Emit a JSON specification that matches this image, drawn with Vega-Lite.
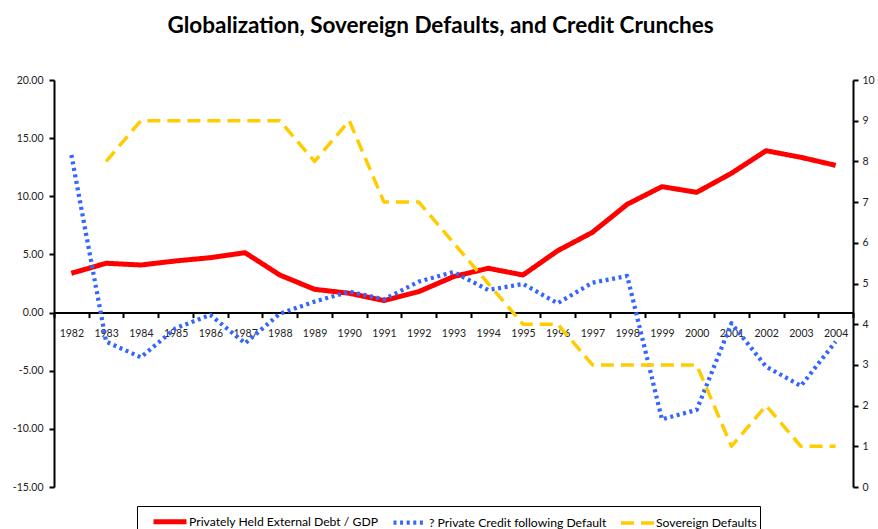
{
  "$schema": "https://vega.github.io/schema/vega-lite/v6.json",
  "autosize": {"type": "none"},
  "width": 799,
  "height": 407,
  "padding": {"left": 54, "top": 80, "right": 25, "bottom": 42},
  "background": "white",
  "config": {"view": {"stroke": null}, "font": "Lato"},
  "title": {"text": "Globalization, Sovereign Defaults, and Credit Crunches", "font": "Lato", "fontSize": 22.5, "fontWeight": "bold", "color": "#000000", "offset": 38, "dx": -13},
  "data": {"values": [
    {"year": 1982, "series": "Privately Held External Debt / GDP", "value": 3.38},
    {"year": 1983, "series": "Privately Held External Debt / GDP", "value": 4.24},
    {"year": 1984, "series": "Privately Held External Debt / GDP", "value": 4.09},
    {"year": 1985, "series": "Privately Held External Debt / GDP", "value": 4.44},
    {"year": 1986, "series": "Privately Held External Debt / GDP", "value": 4.72},
    {"year": 1987, "series": "Privately Held External Debt / GDP", "value": 5.15},
    {"year": 1988, "series": "Privately Held External Debt / GDP", "value": 3.23},
    {"year": 1989, "series": "Privately Held External Debt / GDP", "value": 2.0},
    {"year": 1990, "series": "Privately Held External Debt / GDP", "value": 1.66},
    {"year": 1991, "series": "Privately Held External Debt / GDP", "value": 1.03},
    {"year": 1992, "series": "Privately Held External Debt / GDP", "value": 1.8},
    {"year": 1993, "series": "Privately Held External Debt / GDP", "value": 3.09},
    {"year": 1994, "series": "Privately Held External Debt / GDP", "value": 3.81},
    {"year": 1995, "series": "Privately Held External Debt / GDP", "value": 3.23},
    {"year": 1996, "series": "Privately Held External Debt / GDP", "value": 5.32},
    {"year": 1997, "series": "Privately Held External Debt / GDP", "value": 6.9},
    {"year": 1998, "series": "Privately Held External Debt / GDP", "value": 9.31},
    {"year": 1999, "series": "Privately Held External Debt / GDP", "value": 10.83},
    {"year": 2000, "series": "Privately Held External Debt / GDP", "value": 10.34},
    {"year": 2001, "series": "Privately Held External Debt / GDP", "value": 11.98},
    {"year": 2002, "series": "Privately Held External Debt / GDP", "value": 13.92},
    {"year": 2003, "series": "Privately Held External Debt / GDP", "value": 13.35},
    {"year": 2004, "series": "Privately Held External Debt / GDP", "value": 12.66},
    {"year": 1982, "series": "? Private Credit following Default", "value": 13.55},
    {"year": 1983, "series": "? Private Credit following Default", "value": -2.5},
    {"year": 1984, "series": "? Private Credit following Default", "value": -3.85},
    {"year": 1985, "series": "? Private Credit following Default", "value": -1.35},
    {"year": 1986, "series": "? Private Credit following Default", "value": -0.2},
    {"year": 1987, "series": "? Private Credit following Default", "value": -2.64},
    {"year": 1988, "series": "? Private Credit following Default", "value": -0.1},
    {"year": 1989, "series": "? Private Credit following Default", "value": 0.94},
    {"year": 1990, "series": "? Private Credit following Default", "value": 1.8},
    {"year": 1991, "series": "? Private Credit following Default", "value": 1.14},
    {"year": 1992, "series": "? Private Credit following Default", "value": 2.66},
    {"year": 1993, "series": "? Private Credit following Default", "value": 3.49},
    {"year": 1994, "series": "? Private Credit following Default", "value": 1.94},
    {"year": 1995, "series": "? Private Credit following Default", "value": 2.46},
    {"year": 1996, "series": "? Private Credit following Default", "value": 0.8},
    {"year": 1997, "series": "? Private Credit following Default", "value": 2.57},
    {"year": 1998, "series": "? Private Credit following Default", "value": 3.15},
    {"year": 1999, "series": "? Private Credit following Default", "value": -9.18},
    {"year": 2000, "series": "? Private Credit following Default", "value": -8.37},
    {"year": 2001, "series": "? Private Credit following Default", "value": -0.92},
    {"year": 2002, "series": "? Private Credit following Default", "value": -4.65},
    {"year": 2003, "series": "? Private Credit following Default", "value": -6.31},
    {"year": 2004, "series": "? Private Credit following Default", "value": -2.5},
    {"year": 1983, "series": "Sovereign Defaults", "value": 8},
    {"year": 1984, "series": "Sovereign Defaults", "value": 9},
    {"year": 1985, "series": "Sovereign Defaults", "value": 9},
    {"year": 1986, "series": "Sovereign Defaults", "value": 9},
    {"year": 1987, "series": "Sovereign Defaults", "value": 9},
    {"year": 1988, "series": "Sovereign Defaults", "value": 9},
    {"year": 1989, "series": "Sovereign Defaults", "value": 8},
    {"year": 1990, "series": "Sovereign Defaults", "value": 9},
    {"year": 1991, "series": "Sovereign Defaults", "value": 7},
    {"year": 1992, "series": "Sovereign Defaults", "value": 7},
    {"year": 1993, "series": "Sovereign Defaults", "value": 6},
    {"year": 1994, "series": "Sovereign Defaults", "value": 5},
    {"year": 1995, "series": "Sovereign Defaults", "value": 4},
    {"year": 1996, "series": "Sovereign Defaults", "value": 4},
    {"year": 1997, "series": "Sovereign Defaults", "value": 3},
    {"year": 1998, "series": "Sovereign Defaults", "value": 3},
    {"year": 1999, "series": "Sovereign Defaults", "value": 3},
    {"year": 2000, "series": "Sovereign Defaults", "value": 3},
    {"year": 2001, "series": "Sovereign Defaults", "value": 1},
    {"year": 2002, "series": "Sovereign Defaults", "value": 2},
    {"year": 2003, "series": "Sovereign Defaults", "value": 1},
    {"year": 2004, "series": "Sovereign Defaults", "value": 1}
  ]},
  "encoding": {
    "x": {
      "field": "year", "type": "ordinal",
      "scale": {"paddingInner": 0, "paddingOuter": 0},
      "axis": {
        "title": null, "labelAngle": 0, "offset": -174.4, "tickBand": "extent",
        "domainColor": "#000000", "domainWidth": 2, "tickColor": "#000000", "tickWidth": 2, "tickSize": 5,
        "labelFont": "Lato", "labelFontSize": 10.5, "labelColor": "#222222", "labelPadding": 11,
        "encode": {"ticks": {"update": {"y": {"value": -5}, "y2": {"value": 5}}}}
      }
    },
    "color": {
      "field": "series", "type": "nominal",
      "scale": {"domain": ["Privately Held External Debt / GDP", "? Private Credit following Default", "Sovereign Defaults"], "range": ["#ff0000", "#3366ff", "#ffcc00"]},
      "legend": {
        "title": null, "orient": "none", "direction": "horizontal", "legendX": 83, "legendY": 426,
        "symbolType": "M0.1,0H3.4", "symbolSize": 400, "labelFont": "Lato", "labelFontSize": 12.2, "labelColor": "#000000",
        "labelLimit": 400, "columnPadding": 1, "labelOffset": 24, "strokeColor": "#000000", "fillColor": "#ffffff", "padding": 3
      }
    },
    "strokeDash": {
      "field": "series", "type": "nominal",
      "scale": {"domain": ["Privately Held External Debt / GDP", "? Private Credit following Default", "Sovereign Defaults"], "range": [[1, 0], [3, 3.6], [13, 7]]},
      "legend": {"title": null}
    },
    "strokeWidth": {
      "field": "series", "type": "nominal",
      "scale": {"domain": ["Privately Held External Debt / GDP", "? Private Credit following Default", "Sovereign Defaults"], "range": [5, 3.5, 5]},
      "legend": {"title": null}
    }
  },
  "layer": [
    {
      "transform": [{"filter": "datum.series !== 'Sovereign Defaults'"}],
      "mark": {"type": "line", "strokeJoin": "round"},
      "encoding": {
        "y": {
          "field": "value", "type": "quantitative",
          "scale": {"domain": [-15, 20], "nice": false, "zero": false},
          "axis": {
            "title": null, "orient": "left", "values": [-15, -10, -5, 0, 5, 10, 15, 20], "grid": false,
            "labelExpr": "replace(format(datum.value, '.2f'), '\u2212', '-')",
            "domainColor": "#000000", "domainWidth": 2, "tickColor": "#000000", "tickWidth": 2, "tickSize": 5,
            "labelFont": "Lato", "labelFontSize": 10.5, "labelColor": "#222222", "labelPadding": 6,
            "encode": {"ticks": {"update": {"x": {"value": 5}, "x2": {"value": -5}}}}
          }
        }
      }
    },
    {
      "transform": [{"filter": "datum.series === 'Sovereign Defaults'"}],
      "mark": {"type": "line", "strokeJoin": "round"},
      "encoding": {
        "y": {
          "field": "value", "type": "quantitative",
          "scale": {"domain": [0, 10], "nice": false},
          "axis": {
            "title": null, "orient": "right", "values": [0, 1, 2, 3, 4, 5, 6, 7, 8, 9, 10], "grid": false, "format": "d",
            "domainColor": "#000000", "domainWidth": 2, "tickColor": "#000000", "tickWidth": 2, "tickSize": 5,
            "labelFont": "Lato", "labelFontSize": 10.5, "labelColor": "#222222", "labelPadding": 4,
            "encode": {"ticks": {"update": {"x": {"value": -5}, "x2": {"value": 5}}}}
          }
        }
      }
    }
  ],
  "resolve": {"scale": {"y": "independent"}, "axis": {"y": "independent"}}
}
